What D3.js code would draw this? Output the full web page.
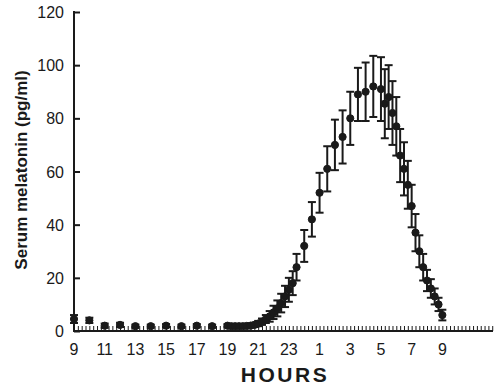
<!doctype html>
<html lang="en">
  <head>
    <meta charset="utf-8" />
    <title>Serum melatonin</title>
    <style>
     body {
       margin: 0;
       background: #fff;
       font-family: "Liberation Sans", Arial, sans-serif;
     }
     .dot, .err {
       fill: #1a1a1a;
       stroke: #1a1a1a;
     }
     .axis-line {
       stroke: #1a1a1a;
       stroke-width: 2;
     }
    </style>
  </head>
  <body>
    <div id="chart"></div>

    <script src="https://d3js.org/d3.v7.min.js"></script>
    <script>
    // clock hours, continuous (25 = 1 am next day, 33 = 9 am)
    var hours = [9, 10, 11, 12, 13, 14, 15, 16, 17, 18,
                 19, 19.25, 19.5, 19.75, 20, 20.25, 20.5, 20.75, 21, 21.25,
                 21.5, 21.75, 22, 22.25, 22.5, 22.75, 23, 23.25,
                 23.5, 24, 24.5, 25, 25.5, 26, 26.5, 27, 27.5, 28, 28.5,
                 29, 29.25, 29.5, 29.75, 30, 30.25, 30.5, 30.75, 31, 31.25,
                 31.5, 31.75, 32, 32.25, 32.5, 32.75, 33];
    // mean serum melatonin (pg/ml)
    var melatonin = [4.5, 4, 2, 2.3, 1.8, 1.8, 2, 1.8, 2, 1.8,
                     2, 1.8, 1.8, 1.8, 1.8, 1.9, 2, 2.3, 2.8, 3.5,
                     4.5, 5.5, 7, 8.5, 10.5, 13, 15.5, 18,
                     24, 32, 42, 52, 61, 70, 73, 80, 89, 90, 92,
                     91, 85.5, 88, 82, 77, 66, 61, 55, 47, 37,
                     30, 24, 19, 16, 13, 10, 6];
    // standard error
    var sem = [1.5, 1, 0.8, 0.8, 0.6, 0.6, 0.6, 0.6, 0.6, 0.6,
               0.6, 0.6, 0.6, 0.6, 0.6, 0.6, 0.7, 0.8, 1, 1.2,
               1.5, 2, 2.5, 3, 3.5, 4, 4.5, 4.5,
               5, 6, 6.5, 7.5, 8.5, 9.5, 10, 10, 10, 11, 11.5,
               12, 13, 12, 12, 11, 10, 10, 9, 8, 7,
               6, 5, 4, 3.5, 3, 2.5, 2];
    var yTicks = [0, 20, 40, 60, 80, 100, 120];
    var xTicks = [9, 11, 13, 15, 17, 19, 21, 23, 25, 27, 29, 31, 33];

    var width = 500, height = 388;

    var svg = d3.select("#chart").append("svg")
        .attr("width", width)
        .attr("height", height);

    var x = d3.scaleLinear().domain([9, 36.3]).range([74, 493]);
    var y = d3.scaleLinear().domain([0, 120]).range([331, 12]);

    var data = hours.map(function(h, i) {
      return {h: h, v: melatonin[i], e: sem[i]};
    });

    // y axis
    var yAxis = svg.append("g")
        .attr("transform", "translate(74,0)")
        .call(d3.axisRight(y).tickValues(yTicks).tickSize(6).tickFormat(""));
    yAxis.select(".domain").remove();
    yAxis.selectAll("line").attr("stroke", "#1a1a1a").attr("stroke-width", 2);
    svg.append("line").attr("class", "axis-line")
        .attr("x1", 74).attr("x2", 74).attr("y1", y(120) - 1).attr("y2", y(0) + 1);
    svg.selectAll(".ylab").data(yTicks).enter().append("text")
        .attr("class", "ylab")
        .attr("x", 64)
        .attr("y", function(d) { return y(d) + 6; })
        .attr("text-anchor", "end")
        .attr("font-size", 16)
        .attr("fill", "#1a1a1a")
        .text(function(d) { return d; });

    // x axis: small upward ticks every 15 min
    var minor = d3.range(9, 36.3, 0.25);
    var xAxis = svg.append("g")
        .attr("transform", "translate(0,331)")
        .call(d3.axisTop(x).tickValues(minor).tickSize(5).tickFormat(""));
    xAxis.select(".domain").remove();
    xAxis.selectAll("line").attr("stroke", "#1a1a1a").attr("stroke-width", 1);
    svg.append("line").attr("class", "axis-line")
        .attr("x1", 73).attr("x2", 493).attr("y1", 331).attr("y2", 331);
    svg.selectAll(".xlab").data(xTicks).enter().append("text")
        .attr("class", "xlab")
        .attr("x", function(d) { return x(d); })
        .attr("y", 355)
        .attr("text-anchor", "middle")
        .attr("font-size", 16)
        .attr("fill", "#1a1a1a")
        .text(function(d) { return d % 24; });

    // titles
    svg.append("text")
        .attr("x", 285)
        .attr("y", 382)
        .attr("text-anchor", "middle")
        .attr("font-size", 21)
        .attr("font-weight", "bold")
        .attr("letter-spacing", 2.5)
        .attr("fill", "#1a1a1a")
        .text("HOURS");
    svg.append("text")
        .attr("transform", "translate(27,170) rotate(-90)")
        .attr("text-anchor", "middle")
        .attr("font-size", 17)
        .attr("font-weight", "bold")
        .attr("fill", "#1a1a1a")
        .text("Serum melatonin (pg/ml)");

    // error bars
    var bars = svg.append("g").selectAll("g").data(data).enter().append("g");
    bars.append("line")
        .attr("x1", function(d) { return x(d.h); })
        .attr("x2", function(d) { return x(d.h); })
        .attr("y1", function(d) { return y(d.v + d.e); })
        .attr("y2", function(d) { return y(Math.max(0, d.v - d.e)); })
        .attr("stroke", "#1a1a1a")
        .attr("stroke-width", 2);
    bars.append("line")
        .attr("x1", function(d) { return x(d.h) - 4; })
        .attr("x2", function(d) { return x(d.h) + 4; })
        .attr("y1", function(d) { return y(d.v + d.e); })
        .attr("y2", function(d) { return y(d.v + d.e); })
        .attr("stroke", "#1a1a1a")
        .attr("stroke-width", 2);
    bars.append("line")
        .attr("x1", function(d) { return x(d.h) - 4; })
        .attr("x2", function(d) { return x(d.h) + 4; })
        .attr("y1", function(d) { return y(Math.max(0, d.v - d.e)); })
        .attr("y2", function(d) { return y(Math.max(0, d.v - d.e)); })
        .attr("stroke", "#1a1a1a")
        .attr("stroke-width", 2);

    // points
    svg.append("g").selectAll("circle").data(data).enter().append("circle")
        .attr("class", "dot")
        .attr("cx", function(d) { return x(d.h); })
        .attr("cy", function(d) { return y(d.v); })
        .attr("r", 3.6);
    </script>
  </body>
</html>
